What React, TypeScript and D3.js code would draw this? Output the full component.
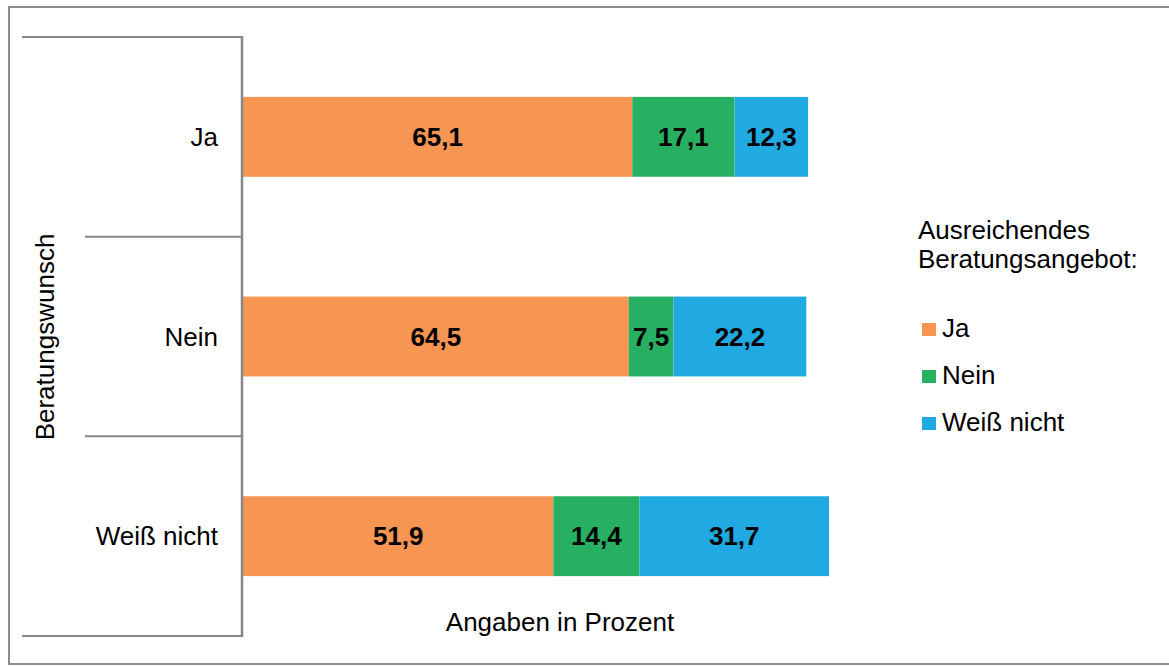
import React from "react";
import * as d3 from "d3";

const categories = ["Ja", "Nein", "Weiß nicht"];
const seriesNames = ["Ja", "Nein", "Weiß nicht"];
const valuesJa = [65.1, 64.5, 51.9];
const valuesNein = [17.1, 7.5, 14.4];
const valuesWeissNicht = [12.3, 22.2, 31.7];
const colors = ["#F79552", "#27B062", "#21AAE1"];

const W = 1169;
const H = 666;
const FONT = "'Liberation Sans', Arial, sans-serif";
const AXIS = "#86868b";

export default function App() {
  const rows = categories.map((c, i) => ({
    cat: c,
    Ja: valuesJa[i],
    Nein: valuesNein[i],
    "Weiß nicht": valuesWeissNicht[i],
  }));
  const stack = d3.stack<any>().keys(seriesNames)(rows);

  const x = d3.scaleLinear().domain([0, 100]).range([243, 841]);
  const y = d3
    .scaleBand<string>()
    .domain(categories)
    .range([37, 636])
    .paddingInner(0.6)
    .paddingOuter(0.3);

  const step = y.step();
  const y0 = 37;
  const dividers = categories.slice(1).map((_, i) => y0 + step * (i + 1));

  const fmt = (v: number) => v.toFixed(1).replace(".", ",");

  return (
    <svg
      width={W}
      height={H}
      style={{ position: "absolute", left: 0, top: 0, background: "#fff" }}
      fontFamily={FONT}
    >
      {/* outer frame */}
      <path
        d={`M${W},7 H9 V664 H${W}`}
        fill="none"
        stroke="#8c8c90"
        strokeWidth={2}
      />
      {/* bars */}
      {stack.map((s, si) =>
        s.map((d, i) => (
          <rect
            key={`${si}-${i}`}
            x={x(d[0])}
            y={y(categories[i])}
            width={x(d[1]) - x(d[0])}
            height={y.bandwidth()}
            fill={colors[si]}
          />
        ))
      )}
      {/* data labels */}
      {stack.map((s, si) =>
        s.map((d, i) => (
          <text
            key={`l-${si}-${i}`}
            x={(x(d[0]) + x(d[1])) / 2}
            y={(y(categories[i]) as number) + y.bandwidth() / 2 + 9}
            textAnchor="middle"
            fontWeight="bold"
            fontSize={26}
            fill="#000"
          >
            {fmt(d[1] - d[0])}
          </text>
        ))
      )}
      {/* axis bracket */}
      <line x1={22} x2={243} y1={37} y2={37} stroke={AXIS} strokeWidth={2} />
      <line x1={22} x2={243} y1={636} y2={636} stroke={AXIS} strokeWidth={2} />
      {dividers.map((d, i) => (
        <line key={i} x1={85} x2={243} y1={d} y2={d} stroke={AXIS} strokeWidth={2} />
      ))}
      <line x1={242} x2={242} y1={36} y2={637} stroke={AXIS} strokeWidth={2.5} />
      {/* category labels */}
      {categories.map((c) => (
        <text
          key={c}
          x={218}
          y={(y(c) as number) + y.bandwidth() / 2 + 9}
          textAnchor="end"
          fontSize={26}
          fill="#000"
        >
          {c}
        </text>
      ))}
      {/* y axis title */}
      <text
        transform="translate(54,337) rotate(-90)"
        textAnchor="middle"
        fontSize={26}
        fill="#000"
      >
        Beratungswunsch
      </text>
      {/* x axis title */}
      <text x={560} y={631} textAnchor="middle" fontSize={26} fill="#000">
        Angaben in Prozent
      </text>
      {/* legend */}
      <text x={918} y={239} fontSize={26} fill="#000">
        Ausreichendes
      </text>
      <text x={918} y={268} fontSize={26} fill="#000">
        Beratungsangebot:
      </text>
      {seriesNames.map((n, i) => (
        <g key={n}>
          <rect x={922} y={323 + i * 47} width={14} height={13} fill={colors[i]} />
          <text x={942} y={337 + i * 47} fontSize={26} fill="#000">
            {n}
          </text>
        </g>
      ))}
    </svg>
  );
}
